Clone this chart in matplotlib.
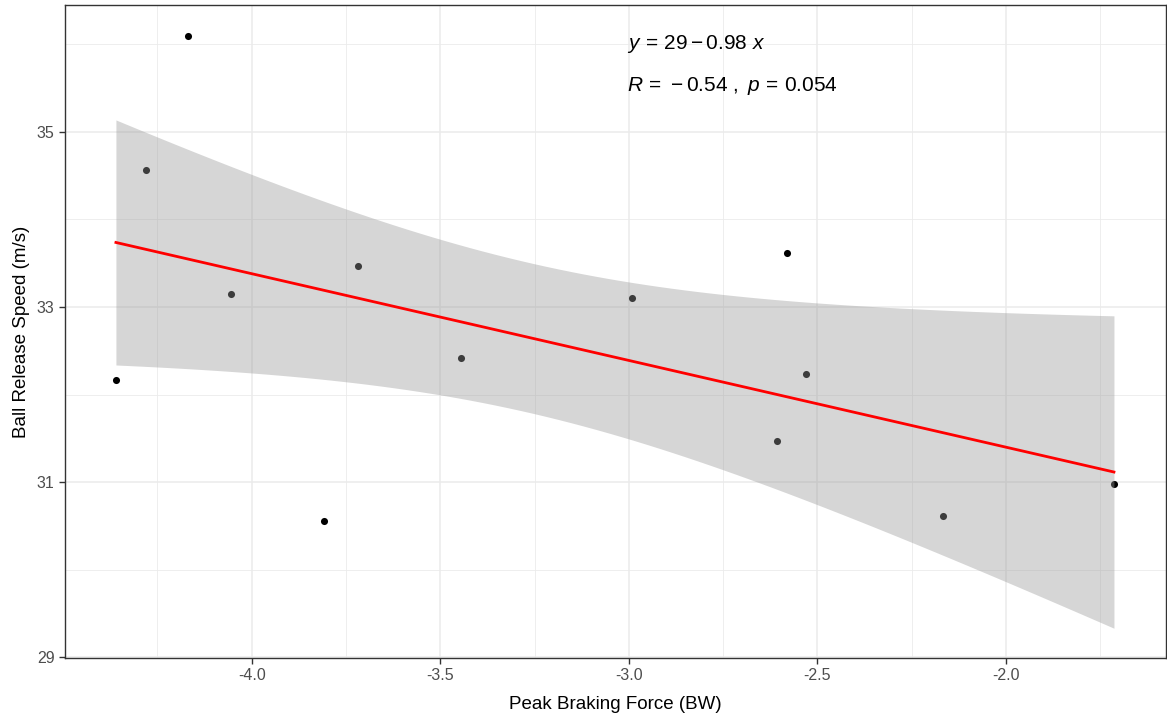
import numpy as np
import matplotlib
matplotlib.use("Agg")
import matplotlib.pyplot as plt

plt.rcParams['font.family'] = ['Liberation Sans', 'DejaVu Sans']
plt.rcParams['mathtext.fontset'] = 'custom'
plt.rcParams['mathtext.rm'] = 'Liberation Sans'
plt.rcParams['mathtext.it'] = 'Liberation Sans:italic'

# values
braking_force = [-4.360, -4.281, -4.170, -4.056, -3.809, -3.719, -3.446,
                 -2.991, -2.580, -2.607, -2.530, -2.167, -1.714]
release_speed = [32.17, 34.57, 36.10, 33.15, 30.56, 33.47, 32.42,
                 33.10, 33.62, 31.47, 32.24, 30.61, 30.98]
x_ticks = [-4.0, -3.5, -3.0, -2.5, -2.0]
y_ticks = [29, 31, 33, 35]
eq_label = r'$y\,=\,29 - 0.98\ x$'
r_label = r'$R\,=\,-0.54\ ,\ p\,=\,0.054$'

x = np.array(braking_force)
y = np.array(release_speed)
n = len(x)

# linear fit + 95% confidence band (t quantile, df = 11)
slope, intercept = np.polyfit(x, y, 1)
xs = np.linspace(x.min(), x.max(), 80)
fit = intercept + slope * xs
resid = y - (intercept + slope * x)
s = np.sqrt(np.sum(resid ** 2) / (n - 2))
sxx = np.sum((x - x.mean()) ** 2)
se = s * np.sqrt(1 / n + (xs - x.mean()) ** 2 / sxx)
t_crit = 2.200985
lo, hi = fit - t_crit * se, fit + t_crit * se

fig = plt.figure(figsize=(11.67, 7.23), dpi=100)
ax = fig.add_axes([65 / 1167, 1 - 658 / 723, 1101 / 1167, 653 / 723])

# grid like theme_bw
for v in [-4.25, -3.75, -3.25, -2.75, -2.25, -1.75]:
    ax.axvline(v, color='#EBEBEB', lw=0.6, zorder=0)
for v in [30, 32, 34, 36]:
    ax.axhline(v, color='#EBEBEB', lw=0.6, zorder=0)
for v in x_ticks:
    ax.axvline(v, color='#EBEBEB', lw=1.1, zorder=0)
for v in y_ticks:
    ax.axhline(v, color='#EBEBEB', lw=1.1, zorder=0)

ax.scatter(x, y, s=26, color='black', zorder=2, linewidths=0)
ax.fill_between(xs, lo, hi, color='#999999', alpha=0.4, lw=0, zorder=3)
ax.plot(xs, fit, color='red', lw=2, zorder=4)

ax.text(-3.005, 36.01, eq_label, fontsize=15, va='center', ha='left')
ax.text(-3.005, 35.52, r_label, fontsize=15, va='center', ha='left')

ax.set_xlim(-4.495, -1.576)
ax.set_ylim(28.99, 36.45)
ax.set_xticks(x_ticks)
ax.set_xticklabels(['-4.0', '-3.5', '-3.0', '-2.5', '-2.0'])
ax.set_yticks(y_ticks)
ax.tick_params(colors='#333333', labelcolor='#4D4D4D', labelsize=11.5, length=4, width=1)
for sp in ax.spines.values():
    sp.set_color('#333333')
    sp.set_linewidth(1)

ax.set_xlabel('Peak Braking Force (BW)', fontsize=13.5, labelpad=9)
ax.set_ylabel('Ball Release Speed (m/s)', fontsize=13.5, labelpad=5)

fig.savefig('out.png', dpi=100)
